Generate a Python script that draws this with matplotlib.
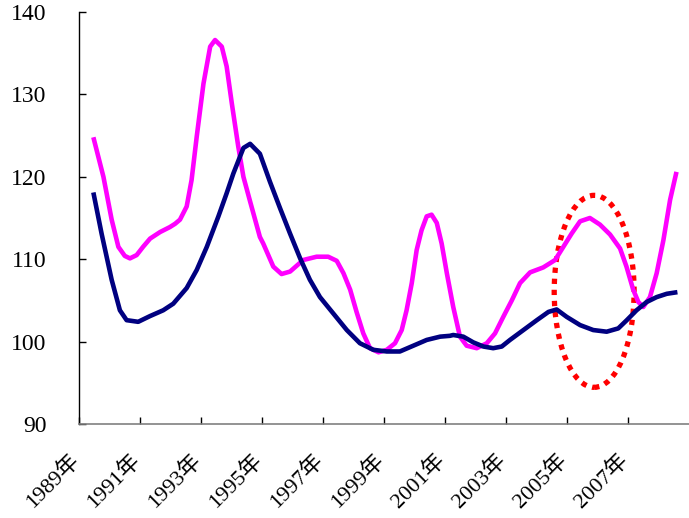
import matplotlib
matplotlib.use('Agg')
import matplotlib.pyplot as plt
import matplotlib.transforms as mtransforms
from matplotlib.patches import Ellipse

# Monthly-position readings (fractional year, index value)
pink_years = [1989.47, 1989.80, 1990.07, 1990.29, 1990.50, 1990.67, 1990.89, 1991.10,
              1991.33, 1991.66, 1991.98, 1992.15, 1992.31, 1992.53, 1992.69, 1992.86,
              1993.08, 1993.30, 1993.46, 1993.68, 1993.84, 1994.01, 1994.22, 1994.39,
              1994.61, 1994.93, 1995.04, 1995.37, 1995.64, 1995.92, 1996.35, 1996.79,
              1997.17, 1997.45, 1997.67, 1997.89, 1998.10, 1998.32, 1998.54, 1998.82,
              1999.09, 1999.36, 1999.58, 1999.74, 1999.91, 2000.07, 2000.23, 2000.40,
              2000.56, 2000.73, 2000.89, 2001.06, 2001.27, 2001.49, 2001.71, 2002.04,
              2002.37, 2002.64, 2002.91, 2003.19, 2003.46, 2003.79, 2004.22, 2004.61,
              2004.88, 2005.15, 2005.43, 2005.75, 2006.08, 2006.41, 2006.74, 2006.95,
              2007.17, 2007.34, 2007.50, 2007.72, 2007.94, 2008.16, 2008.38, 2008.59]
pink_vals = [124.8, 120.0, 114.8, 111.5, 110.4, 110.1, 110.5, 111.5,
             112.5, 113.3, 113.9, 114.3, 114.8, 116.4, 119.6, 124.9,
             131.3, 135.8, 136.6, 135.8, 133.4, 128.9, 123.7, 120.0,
             117.0, 112.7, 111.9, 109.1, 108.2, 108.5, 109.9, 110.3,
             110.3, 109.8, 108.3, 106.3, 103.6, 101.0, 99.2, 98.7,
             99.0, 99.8, 101.4, 103.8, 107.1, 111.1, 113.5, 115.2,
             115.4, 114.4, 111.9, 108.3, 104.2, 100.6, 99.5, 99.2,
             99.8, 101.0, 103.0, 105.0, 107.1, 108.4, 109.0, 109.9,
             111.5, 113.1, 114.6, 115.0, 114.2, 113.0, 111.3, 109.1,
             106.3, 104.8, 104.2, 105.4, 108.3, 112.3, 117.2, 120.6]

navy_years = [1989.47, 1989.74, 1990.07, 1990.34, 1990.56, 1990.94, 1991.33, 1991.76,
              1992.09, 1992.53, 1992.86, 1993.19, 1993.57, 1993.84, 1994.06, 1994.39,
              1994.61, 1994.93, 1995.26, 1995.59, 1995.92, 1996.25, 1996.57, 1996.90,
              1997.34, 1997.78, 1998.21, 1998.65, 1999.09, 1999.52, 1999.96, 2000.40,
              2000.84, 2001.16, 2001.27, 2001.60, 2001.93, 2002.26, 2002.58, 2002.86,
              2003.13, 2003.57, 2004.01, 2004.39, 2004.66, 2004.99, 2005.43, 2005.86,
              2006.30, 2006.68, 2006.96, 2007.28, 2007.61, 2007.94, 2008.27, 2008.62]
navy_vals = [118.1, 113.1, 107.5, 103.8, 102.6, 102.4, 103.1, 103.8,
             104.6, 106.5, 108.7, 111.5, 115.2, 118.0, 120.4, 123.5,
             124.0, 122.8, 119.4, 116.2, 113.1, 110.1, 107.5, 105.4,
             103.4, 101.4, 99.8, 99.0, 98.8, 98.8, 99.5, 100.2,
             100.6, 100.7, 100.8, 100.6, 99.9, 99.4, 99.2, 99.4,
             100.2, 101.4, 102.6, 103.6, 103.9, 103.0, 102.0, 101.4,
             101.2, 101.6, 102.6, 103.8, 104.8, 105.4, 105.8, 106.0]

tick_years = list(range(1989, 2009, 2))
tick_labels = [f'{y}年' for y in tick_years]
y_ticks = [90, 100, 110, 120, 130, 140]

# highlighted window: centre, width (years), height (index points)
mark_center = (2005.89, 106.1)
mark_size = (2.62, 23.3)

fonts = ['Liberation Serif', 'Noto Sans CJK SC']

fig = plt.figure(figsize=(6.89, 5.18), dpi=100)
ax = fig.add_axes([0.1147, 0.1815, 0.8853, 0.7953])

ax.plot(pink_years, pink_vals, color='#FF00FF', lw=3.3, solid_joinstyle='round',
        solid_capstyle='butt')
ax.plot(navy_years, navy_vals, color='#000080', lw=3.3, solid_joinstyle='round',
        solid_capstyle='butt')

ax.add_patch(Ellipse(mark_center, mark_size[0], mark_size[1], fill=False,
                     edgecolor='#FF0000', lw=3.8, linestyle=(0, (1, 1.1))))

ax.set_xlim(1989, 2009)
ax.set_ylim(90, 140)

ax.spines['top'].set_visible(False)
ax.spines['right'].set_visible(False)
ax.spines['left'].set_color('black')
ax.spines['bottom'].set_color('#808080')
ax.spines['left'].set_linewidth(1.0)
ax.spines['bottom'].set_linewidth(1.2)

ax.set_yticks(y_ticks)
ax.set_yticklabels([str(v) for v in y_ticks], fontfamily=fonts, fontsize=17)
ax.tick_params(axis='y', direction='in', length=5, width=1, pad=23.5)

ax.set_xticks(tick_years)
ax.set_xticklabels(tick_labels, fontfamily=fonts, fontsize=16, rotation=45,
                   ha='right', va='top')
ax.tick_params(axis='x', direction='in', length=5, width=1, pad=19)

shift = mtransforms.ScaledTranslation(4 / 100, 0, fig.dpi_scale_trans)
for lbl in ax.get_xticklabels():
    lbl.set_transform(lbl.get_transform() + shift)

fig.savefig('out.png', dpi=100)
